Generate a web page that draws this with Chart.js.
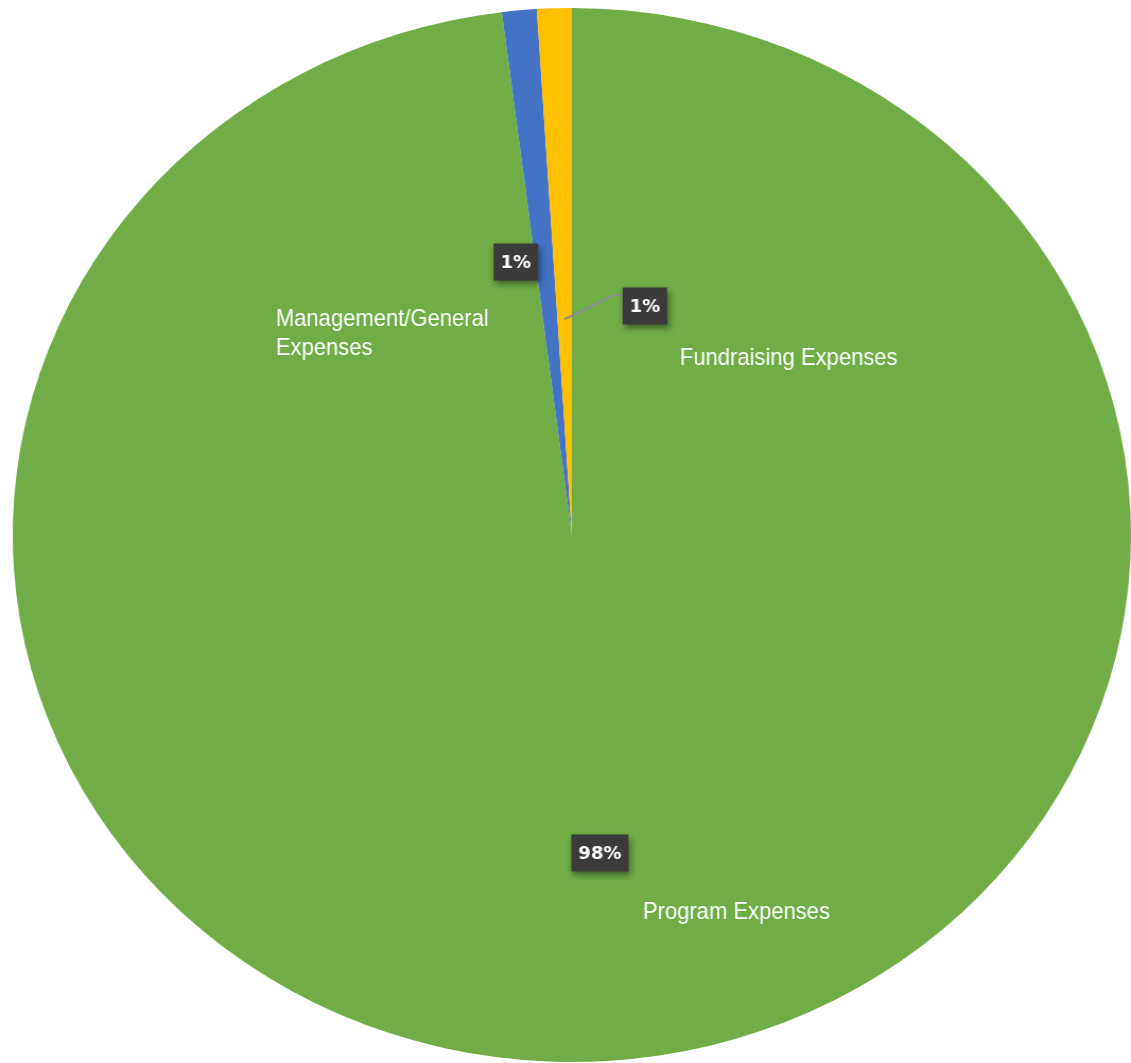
<!DOCTYPE html>
<html>
<head>
<meta charset="utf-8">
<script src="https://cdn.jsdelivr.net/npm/chart.js@4.4.0/dist/chart.umd.min.js"></script>
<style>
  html, body { margin: 0; padding: 0; background: #fff; overflow: hidden; }
</style>
</head>
<body>
<!-- drawing buffer is narrower than the css box, so the circle comes out as the wide oval of the original -->
<canvas id="pie" width="1066" height="1063" style="width:1131px;height:1063px;display:block"></canvas>
<script>
// expense split
const categories = ['Program Expenses', 'Management/General Expenses', 'Fundraising Expenses'];
const shares = [98.0, 1.0, 1.0];
const nameLines = [['Program Expenses'], ['Management/General', 'Expenses'], ['Fundraising Expenses']];
const sliceColors = ['#70AD47', '#4472C4', '#FFC000'];

// where each label sits, in screen px from the pie centre
const labelLayout = [
  { box: [28, 318], name: [71, 384] },
  { box: [-56, -273], name: [-296, -209] },
  { box: [73, -229], name: [108, -170], leader: 0.41 }
];

const total = shares.reduce((a, b) => a + b, 0);
const pctText = shares.map(v => Math.round(v / total * 100) + '%');

const excelLabels = {
  id: 'excelLabels',
  afterDatasetsDraw(chart) {
    const ctx = chart.ctx;
    const meta = chart.getDatasetMeta(0);
    const sx = chart.canvas.clientWidth / chart.width;
    const cx = meta.data[0].x;
    const cy = meta.data[0].y;

    meta.data.forEach((arc, i) => {
      const lay = labelLayout[i];
      const bx = cx + lay.box[0] / sx;
      const by = cy + lay.box[1];

      ctx.save();
      ctx.font = 'bold 18px "DejaVu Sans", Verdana, sans-serif';
      const tw = ctx.measureText(pctText[i]).width;
      const w = tw + 14, h = 37;

      if (lay.leader) {
        const mid = (arc.startAngle + arc.endAngle) / 2;
        const r = arc.outerRadius * lay.leader;
        const px = cx + Math.cos(mid) * r;
        const py = cy + Math.sin(mid) * r;
        const lx = bx - (w / 2) / sx;
        const ly = by - 11;
        ctx.strokeStyle = '#8c8c8c';
        ctx.lineWidth = 2;
        ctx.beginPath();
        ctx.moveTo(lx, ly);
        ctx.lineTo(lx - 9 / sx, ly);
        ctx.lineTo(px, py);
        ctx.stroke();
      }

      // value box
      ctx.translate(bx, by);
      ctx.scale(1 / sx, 1);
      ctx.shadowColor = 'rgba(0,0,0,0.45)';
      ctx.shadowBlur = 6;
      ctx.shadowOffsetX = 2;
      ctx.shadowOffsetY = 3;
      ctx.fillStyle = '#3b3b3b';
      ctx.fillRect(-w / 2, -h / 2, w, h);
      ctx.shadowColor = 'transparent';
      ctx.fillStyle = '#fff';
      ctx.textAlign = 'center';
      ctx.textBaseline = 'middle';
      ctx.fillText(pctText[i], 0, 1);
      ctx.restore();

      // category name
      nameLines[i].forEach((line, k) => {
        ctx.save();
        ctx.translate(cx + lay.name[0] / sx, cy + lay.name[1] + k * 29);
        ctx.scale(1 / sx, 1.08);
        ctx.font = '22px "Liberation Sans", Arial, sans-serif';
        ctx.fillStyle = '#fff';
        ctx.textAlign = 'left';
        ctx.textBaseline = 'alphabetic';
        ctx.fillText(line, 0, 0);
        ctx.restore();
      });
    });
  }
};

new Chart(document.getElementById('pie'), {
  type: 'pie',
  data: {
    labels: categories,
    datasets: [{
      data: shares,
      backgroundColor: sliceColors,
      borderWidth: 0
    }]
  },
  options: {
    responsive: false,
    animation: false,
    devicePixelRatio: 1,
    events: [],
    layout: { padding: { top: 8, bottom: 1, left: 12, right: 0 } },
    plugins: {
      legend: { display: false },
      tooltip: { enabled: false }
    }
  },
  plugins: [excelLabels]
});
</script>
</body>
</html>
